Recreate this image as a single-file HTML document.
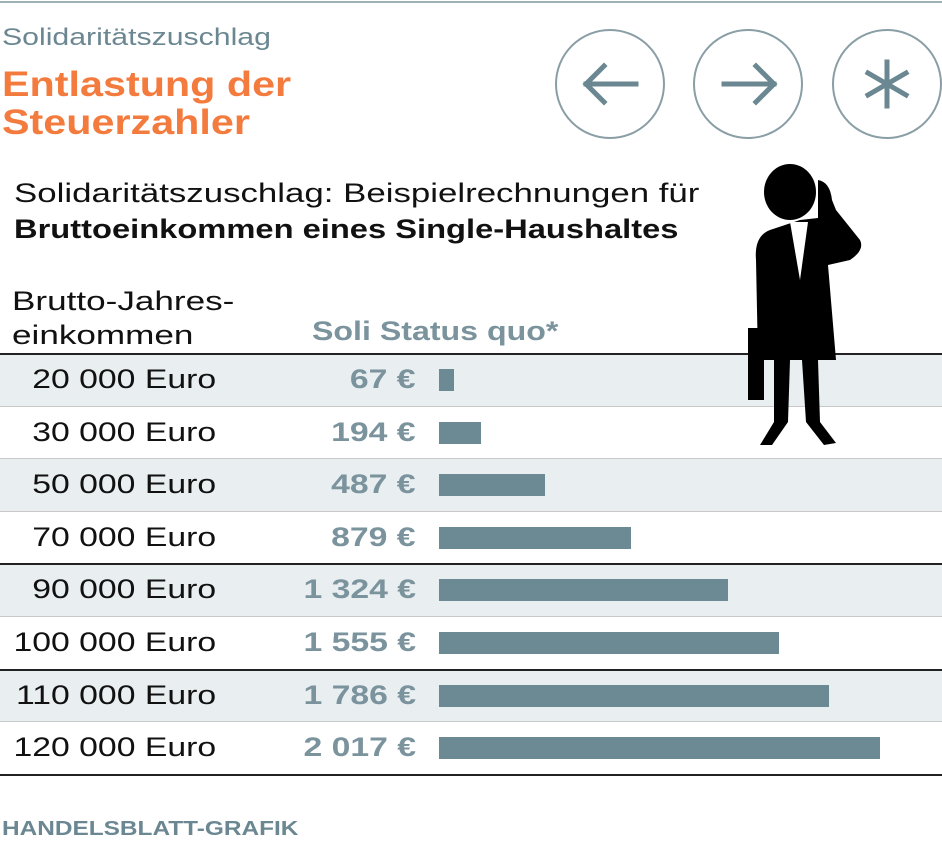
<!DOCTYPE html>
<html><head><meta charset="utf-8"><style>
body{margin:0;width:942px;height:864px;background:#fff;font-family:"Liberation Sans",sans-serif;position:relative;overflow:hidden}
.t{position:absolute;white-space:nowrap;transform-origin:left top}
</style></head><body>
<div style="position:absolute;left:0;top:1px;width:942px;height:2px;background:#9fb0b7"></div>
<div class="t" style="left:2px;top:24px;font-size:24px;color:#6b8791;transform:scaleX(1.26)">Solidaritätszuschlag</div>
<div class="t" style="left:2px;top:66px;font-size:35px;line-height:38px;font-weight:bold;color:#f47b3e;transform:scaleX(1.18)">Entlastung der<br>Steuerzahler</div>
<svg style="position:absolute;left:0;top:0" width="942" height="150">
<g fill="none" stroke="#8a9ea6" stroke-width="2">
<circle cx="610" cy="84" r="54"/>
<circle cx="748" cy="84" r="54"/>
<circle cx="887" cy="84" r="54"/>
</g>
<g stroke="#6b8791" stroke-width="5" fill="none" stroke-linecap="square">
<path d="M586 84 H636 M604 66 L586 84 L604 102"/>
<path d="M724 84 H774 M756 66 L774 84 L756 102"/>
<path d="M887 62 V106 M868 73 L906 95 M868 95 L906 73"/>
</g></svg>
<div class="t" style="left:14px;top:175px;font-size:27px;line-height:36px;color:#111"><span style="display:inline-block;transform:scaleX(1.29);transform-origin:left">Solidaritätszuschlag: Beispielrechnungen für</span><br><b style="display:inline-block;transform:scaleX(1.21);transform-origin:left">Bruttoeinkommen eines Single-Haushaltes</b></div>
<div class="t" style="left:12px;top:284px;font-size:27px;line-height:34px;color:#111;transform:scaleX(1.3)">Brutto-Jahres-<br>einkommen</div>
<div class="t" style="left:312px;top:316px;font-size:27px;font-weight:bold;color:#7a939c;transform:scaleX(1.19)">Soli Status quo*</div>
<div id="rows"></div>
<svg style="position:absolute;left:740px;top:160px" width="130" height="290" viewBox="0 0 130 290">
<g fill="#000">
<ellipse cx="50" cy="32" rx="26" ry="28"/>
<path d="M78 20 Q90 22 92 40 L96 50 L120 80 Q125 90 110 100 L88 105 L96 200 L20 200 L30 110 L30 200 L18 200 L16 100 Q14 76 30 70 L60 60 L78 58 Z"/>
<rect x="8" y="168" width="16" height="72"/>
<path d="M34 200 L50 200 L48 262 L32 285 L20 285 L34 262 Z"/>
<path d="M62 200 L78 200 L80 262 L96 283 L84 285 L66 262 Z"/>
</g>
<path d="M50 62 L68 62 L60 120 Z" fill="#fff"/>
</svg>
<div class="t" style="left:2px;top:818px;font-size:20px;font-weight:bold;color:#6b8791;transform:scaleX(1.22)">HANDELSBLATT-GRAFIK</div>
<script>
const categories=["20 000 Euro","30 000 Euro","50 000 Euro","70 000 Euro","90 000 Euro","100 000 Euro","110 000 Euro","120 000 Euro"];
const values=[67,194,487,879,1324,1555,1786,2017];
const valueLabels=["67 €","194 €","487 €","879 €","1 324 €","1 555 €","1 786 €","2 017 €"];
const c=document.getElementById('rows');
const top0=354,rh=52.6,x0=439,scale=441/2017;
const darkAfter=[3,5];
for(let i=0;i<categories.length;i++){
 const y=top0+i*rh;
 const r=document.createElement('div');
 
 
 r.style.cssText=`position:absolute;left:0;top:${y}px;width:942px;height:${rh}px;background:${i%2==0?'#e9eef1':'#fff'}`;
 c.appendChild(r);
 const ln=document.createElement('div');
 
 
 const dark=i==0||darkAfter.includes(i-1);
 ln.style.cssText=`position:absolute;left:0;top:${y-1}px;width:942px;height:${dark?2:1}px;background:${dark?'#222':'#c8c8c8'}`;
 c.appendChild(ln);
 const a=document.createElement('div');a.className='t';
 
 
 a.textContent=categories[i];
 a.style.cssText+=`right:${942-216}px;top:${y+10}px;font-size:27px;color:#111;transform:scaleX(1.25);transform-origin:right top`;
 c.appendChild(a);
 const v=document.createElement('div');v.className='t';
 
 
 v.textContent=valueLabels[i];
 v.style.cssText+=`right:${942-416}px;top:${y+10}px;font-size:27px;font-weight:bold;color:#7a939c;transform:scaleX(1.25);transform-origin:right top`;
 c.appendChild(v);
 const b=document.createElement('div');
 
 
 b.style.cssText=`position:absolute;left:${x0}px;top:${y+15}px;width:${values[i]*scale}px;height:22px;background:#6b8a94`;
 c.appendChild(b);
}
const bl=document.createElement('div');


bl.style.cssText=`position:absolute;left:0;top:${top0+8*rh-1}px;width:942px;height:2px;background:#222`;
c.appendChild(bl);
</script>
</body></html>
